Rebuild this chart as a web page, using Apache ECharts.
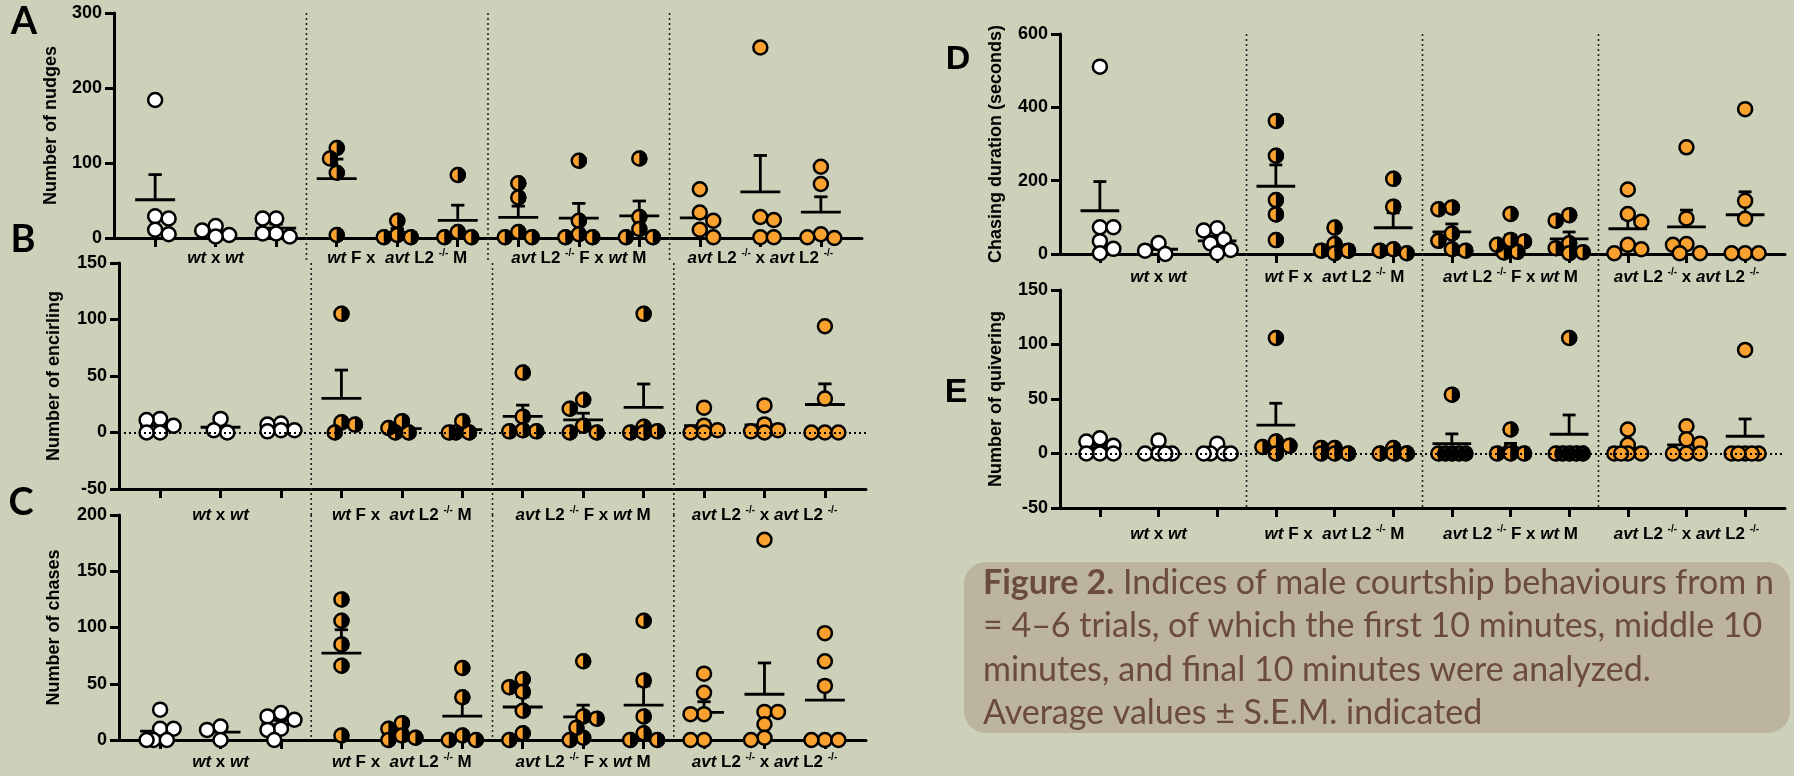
<!DOCTYPE html>
<html>
<head>
<meta charset="utf-8">
<script src="https://cdn.jsdelivr.net/npm/echarts@6/dist/echarts.min.js"></script>
<style>
  html, body { margin: 0; padding: 0; background: #cdd1ba; }
  #chart { width: 1794px; height: 776px; }
</style>
</head>
<body>
<div id="chart"></div>
<script>
'use strict'
// crosses, three time bins each (first / middle / final 10 min)
var crossLabels = [
  '{i|wt} x {i|wt}',
  '{i|wt} F x  {i|avt} L2 {s|-/-} M',
  '{i|avt} L2 {s|-/-} F x {i|wt} M',
  '{i|avt} L2 {s|-/-} x {i|avt} L2 {s|-/-}'
]
var groupPos = [1, 2, 3, 4, 5, 6, 7, 8, 9, 10, 11, 12]
var labelPos = [2, 5, 8, 11]
var dividerPos = [3.5, 6.5, 9.5]

// A
var nudges = [
  [184, 29, 26, 11, 5], [16, 10, 4, 2], [26, 26, 6, 6, 2],
  [120, 106, 87, 4], [23, 4, 1, 1], [84, 8, 1, 1],
  [73, 54, 8, 1, 1], [103, 23, 5, 1, 1], [106, 28, 12, 1, 1],
  [65, 34, 23, 11, 1], [254, 28, 24, 1, 1], [95, 72, 5, 1, 0]
]
// B
var encircling = [
  [12, 11, 6, 0, 0], [12, 2, 0], [8, 7, 2, 2, 1],
  [105, 9, 7, 0], [10, 4, 0, 0], [10, 0, 0, 0],
  [53, 14, 2, 1, 1], [29, 21, 6, 0, 0], [105, 5, 1, 0, 0],
  [22, 6, 2, 0, 0], [24, 7, 2, 1, 0], [94, 30, 0, 0, 0]
]
// C
var chases = [
  [27, 10, 10, 0, 0, 0], [12, 9, 0], [24, 21, 18, 10, 9, 0],
  [125, 106, 85, 66, 4], [15, 10, 4, 2, 0], [64, 38, 4, 0, 0],
  [54, 47, 43, 26, 6, 0], [70, 21, 19, 11, 2, 0], [106, 53, 21, 6, 0, 0],
  [59, 42, 23, 23, 0, 0], [178, 25, 25, 14, 2, 0], [95, 70, 48, 0, 0, 0]
]
// D
var chasingDuration = [
  [511, 73, 73, 35, 14, 2], [30, 9, 0], [70, 64, 40, 29, 11, 2],
  [363, 268, 147, 108, 38], [72, 27, 9, 9, 2], [205, 129, 13, 9, 2],
  [127, 122, 56, 36, 13, 9], [109, 38, 34, 25, 6, 4], [106, 91, 29, 16, 5, 2],
  [176, 109, 88, 25, 13, 2], [291, 97, 27, 25, 2, 2], [395, 145, 96, 2, 2, 2]
]
// E
var quivering = [
  [14, 11, 7, 0, 0, 0], [12, 0, 0, 0, 0], [9, 0, 0, 0, 0],
  [106, 11, 7, 6, 0], [5, 5, 0, 0, 0], [5, 0, 0, 0, 0],
  [54, 0, 0, 0, 0, 0], [22, 3, 0, 0, 0], [106, 0, 0, 0, 0, 0],
  [22, 8, 0, 0, 0, 0], [25, 13, 9, 0, 0, 0], [95, 0, 0, 0, 0, 0]
]

var ticksNudges = [0, 100, 200, 300]
var ticksEncircling = [-50, 0, 50, 100, 150]
var ticksChases = [0, 50, 100, 150, 200]
var ticksDuration = [0, 200, 400, 600]
var ticksQuivering = [-50, 0, 50, 100, 150]

var captionLines = [
  '{b|Figure 2.} Indices of male courtship behaviours from n',
  '= 4\u20136 trials, of which the first 10 minutes, middle 10',
  'minutes, and final 10 minutes were analyzed.',
  'Average values \u00b1 S.E.M. indicated'
]

var FONT = 'Liberation Sans, Arial, sans-serif'
var ORANGE = '#f9a12e'
var SYM = 14
var BORDER = 2.5

var panels = [
  { letter: 'A', name: 'Number of nudges', data: nudges, ticks: ticksNudges, left: 114, top: 13, width: 748, height: 225, labelMargin: 10, nameGap: 54, letterX: 24, letterY: 22, divEnd: 263 },
  { letter: 'B', name: 'Number of encirling', data: encircling, ticks: ticksEncircling, left: 119, top: 263, width: 747, height: 226, labelMargin: 16, nameGap: 56, letterX: 23, letterY: 240, divEnd: 515 },
  { letter: 'C', name: 'Number of chases', data: chases, ticks: ticksChases, left: 119, top: 515, width: 747, height: 225, labelMargin: 12, nameGap: 56, letterX: 21, letterY: 503, divEnd: 740 },
  { letter: 'D', name: 'Chasing duration (seconds)', data: chasingDuration, ticks: ticksDuration, left: 1060, top: 34, width: 725, height: 220, labelMargin: 13, nameGap: 55, letterX: 958, letterY: 60, divEnd: 290 },
  { letter: 'E', name: 'Number of quivering', data: quivering, ticks: ticksQuivering, left: 1060, top: 290, width: 725, height: 218, labelMargin: 16, nameGap: 55, letterX: 956, letterY: 393, divEnd: 508 }
]

var X_MIN = 0.32
var X_MAX = 12.68

function mean (a) {
  return a.reduce(function (s, v) { return s + v }, 0) / a.length
}
function sem (a) {
  var m = mean(a)
  var ss = a.reduce(function (s, v) { return s + (v - m) * (v - m) }, 0)
  return Math.sqrt(ss / (a.length - 1)) / Math.sqrt(a.length)
}

// simple beeswarm: horizontal offsets (px), kept within +-2 steps like the original
function spread (values, pxY) {
  var placed = []
  var step = 6.75
  var dia = 12
  return values.map(function (v, n) {
    var y = v * pxY
    var best = null
    for (var k = 0; k <= 2; k++) {
      var cands = k === 0 ? [0] : (n % 2 ? [-k * step, k * step] : [k * step, -k * step])
      cands.forEach(function (dx) {
        var pen = 0
        placed.forEach(function (p) {
          var d = Math.sqrt((p[0] - dx) * (p[0] - dx) + (p[1] - y) * (p[1] - y))
          if (d < dia) pen += dia - d
        })
        var score = pen + Math.abs(dx) * 0.03
        if (best === null || score < best[1] - 1e-9) best = [dx, score]
      })
    }
    placed.push([best[0], y])
    return best[0]
  })
}

function renderMean (params, api) {
  var x = api.value(0)
  var m = api.value(1)
  var s = api.value(2)
  var c = api.coord([x, m])
  var t = api.coord([x, m + s])
  var hw = api.size([0.33, 0])[0]
  var cw = api.size([0.11, 0])[0]
  var st = { stroke: '#000', lineWidth: 2.8, fill: null }
  return {
    type: 'group',
    children: [
      { type: 'line', shape: { x1: c[0] - hw, y1: c[1], x2: c[0] + hw, y2: c[1] }, style: st },
      { type: 'line', shape: { x1: c[0], y1: c[1], x2: c[0], y2: t[1] }, style: st },
      { type: 'line', shape: { x1: c[0] - cw, y1: t[1], x2: c[0] + cw, y2: t[1] }, style: st }
    ]
  }
}

var labelRich = {
  i: { fontStyle: 'italic', fontWeight: 'bold', fontSize: 17, fontFamily: FONT, lineHeight: 20, color: '#000' },
  s: { fontWeight: 'bold', fontSize: 10, fontFamily: FONT, lineHeight: 11, verticalAlign: 'top', color: '#000' }
}

var grids = []
var xAxes = []
var yAxes = []
var series = []

panels.forEach(function (p, i) {
  var yMin = p.ticks[0]
  var yMax = p.ticks[p.ticks.length - 1]
  var pxY = p.height / (yMax - yMin)
  var pxX = p.width / (X_MAX - X_MIN)

  grids.push({ left: p.left, top: p.top, width: p.width, height: p.height, containLabel: false })
  xAxes.push({
    type: 'value',
    gridIndex: i,
    min: X_MIN,
    max: X_MAX,
    axisLine: { show: true, onZero: false, lineStyle: { color: '#000', width: 3 } },
    axisTick: { show: true, customValues: groupPos, length: 9, lineStyle: { color: '#000', width: 3 } },
    axisLabel: {
      show: true,
      customValues: labelPos,
      formatter: function (v) { return crossLabels[labelPos.indexOf(Math.round(v))] },
      margin: p.labelMargin,
      color: '#000',
      fontWeight: 'bold',
      fontSize: 17,
      fontFamily: FONT,
      lineHeight: 20,
      rich: labelRich
    },
    splitLine: { show: false }
  })
  yAxes.push({
    type: 'value',
    gridIndex: i,
    min: yMin,
    max: yMax,
    interval: p.ticks[1] - p.ticks[0],
    name: p.name,
    nameLocation: 'middle',
    nameGap: p.nameGap,
    nameTextStyle: { color: '#000', fontWeight: 'bold', fontSize: 18, fontFamily: FONT },
    axisLine: { show: true, lineStyle: { color: '#000', width: 3 } },
    axisTick: { show: true, length: 9, lineStyle: { color: '#000', width: 3 } },
    axisLabel: { margin: 12, color: '#000', fontWeight: 'bold', fontSize: 18, fontFamily: FONT },
    splitLine: { show: false }
  })

  var meanData = p.data.map(function (vals, g) {
    return [groupPos[g], mean(vals), sem(vals)]
  })
  var white = []
  var orange = []
  var halves = []
  p.data.forEach(function (vals, g) {
    var offs = spread(vals, pxY)
    vals.forEach(function (v, k) {
      var pt = [groupPos[g] + offs[k] / pxX, v]
      var cross = Math.floor(g / 3)
      if (cross === 0) white.push(pt)
      else orange.push(pt)
      if (cross === 1 || cross === 2) halves.push(pt)
    })
  })

  var meanSeries = {
    type: 'custom',
    xAxisIndex: i,
    yAxisIndex: i,
    data: meanData,
    renderItem: renderMean,
    silent: true,
    z: 3
  }
  if (yMin < 0) {
    meanSeries.markLine = {
      silent: true,
      symbol: 'none',
      label: { show: false },
      lineStyle: { color: '#000', width: 1.8, type: [2, 3] },
      data: [{ yAxis: 0 }]
    }
  }
  series.push(meanSeries)
  series.push({
    type: 'scatter', xAxisIndex: i, yAxisIndex: i, data: white, symbolSize: SYM, z: 4, silent: true,
    itemStyle: { color: '#fff', borderColor: '#000', borderWidth: BORDER, opacity: 1 }
  })
  series.push({
    type: 'scatter', xAxisIndex: i, yAxisIndex: i, data: orange, symbolSize: SYM, z: 4, silent: true,
    itemStyle: { color: ORANGE, borderColor: '#000', borderWidth: BORDER, opacity: 1 }
  })
  series.push({
    type: 'scatter', xAxisIndex: i, yAxisIndex: i, data: halves, z: 5, silent: true,
    symbol: 'path://M0,0 A10,10 0 0 1 0,20 Z',
    symbolSize: [(SYM + BORDER) / 2, SYM + BORDER],
    symbolOffset: [(SYM + BORDER) / 4, 0],
    itemStyle: { color: '#000', opacity: 1 }
  })
})

var chart = echarts.init(document.getElementById('chart'))
chart.setOption({
  backgroundColor: '#cdd1ba',
  animation: false,
  grid: grids,
  xAxis: xAxes,
  yAxis: yAxes,
  series: series
})

// dividers between crosses, panel letters, caption
var graphics = []
panels.forEach(function (p, i) {
  var yMax = p.ticks[p.ticks.length - 1]
  dividerPos.forEach(function (d) {
    var top = chart.convertToPixel({ gridIndex: i }, [d, yMax])
    graphics.push({
      type: 'line',
      silent: true,
      shape: { x1: top[0], y1: top[1], x2: top[0], y2: p.divEnd },
      style: { stroke: '#222', lineWidth: 1.6, lineDash: [2, 3] },
      z: 1
    })
  })
  graphics.push({
    type: 'text',
    silent: true,
    style: {
      text: p.letter,
      x: p.letterX,
      y: p.letterY,
      align: 'center',
      verticalAlign: 'middle',
      font: i < 3 ? 'bold 38px Lato, ' + FONT : 'bold 34px ' + FONT,
      fill: '#000'
    }
  })
})
graphics.push({
  type: 'rect',
  silent: true,
  shape: { x: 964, y: 562, width: 826, height: 171, r: 22 },
  style: { fill: '#bcb49f' },
  z: 1
})
graphics.push({
  type: 'text',
  silent: true,
  z: 2,
  style: {
    text: captionLines.join('\n'),
    x: 983,
    y: 561,
    verticalAlign: 'top',
    font: '34px Lato, sans-serif',
    lineHeight: 43.5,
    fill: '#6b4b3e',
    rich: {
      b: { font: 'bold 34px Lato, sans-serif', fill: '#6b4b3e', lineHeight: 43.5 }
    }
  }
})
chart.setOption({ graphic: graphics })
</script>
</body>
</html>
